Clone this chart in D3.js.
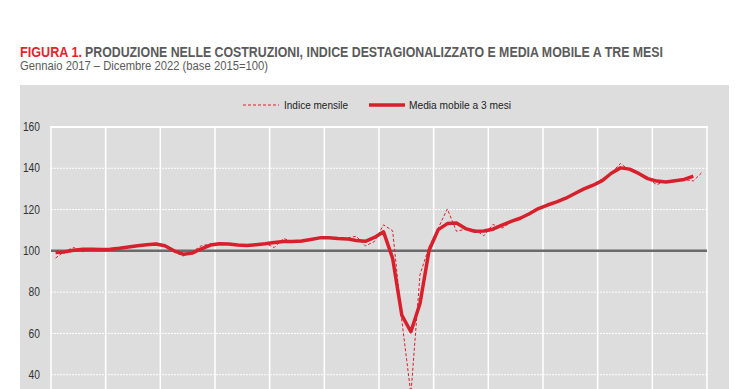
<!DOCTYPE html>
<html>
<head>
<meta charset="utf-8">
<script src="https://cdn.jsdelivr.net/npm/d3@7"></script>
<style>
  body { margin: 0; background: #fff; }
  svg text { font-family: "Liberation Sans Narrow", "Arial Narrow", "Liberation Sans", sans-serif; }
</style>
</head>
<body>
<svg id="chart" width="740" height="389"></svg>
<script>
// Monthly index, Jan 2017 - Dec 2022 (base 2015=100)
var indiceMensile = [
  96.5, 99.8, 101.6, 99.6, 101.2, 100.8, 100.6, 101.0, 101.6, 102.2, 103.0, 103.8,
  102.8, 99.5, 97.5, 99.5, 102.5, 103.3, 103.8, 103.0, 102.5, 102.7, 103.3, 103.6,
  101.6, 106.0, 104.5, 104.2, 105.3, 106.5, 106.6, 105.8, 106.2, 107.1, 102.4, 104.5,
  112.6, 109.7, 66.5, 30.5, 88.5, 102.0, 111.0, 120.3, 109.5, 110.5, 110.3, 107.3,
  112.8, 111.0, 113.8, 116.3, 117.5, 120.6, 122.5, 123.6, 125.0, 127.6, 129.8, 132.2,
  134.8, 137.8, 142.3, 139.0, 137.2, 134.8, 132.1, 133.8, 134.2, 134.5, 133.9, 138.2
];

// 3-month centred moving average (last month not available)
var mediaMobile = [
  99.2, 99.5, 100.3, 100.8, 100.8, 100.7, 100.8, 101.3, 101.9, 102.5, 103.0, 103.3,
  102.5, 100.0, 98.4, 98.9, 101.0, 102.8, 103.4, 103.3, 102.8, 102.6, 103.0, 103.4,
  104.0, 104.5, 104.5, 104.8, 105.5, 106.3, 106.3, 106.0, 105.8, 105.0, 104.6, 106.5,
  109.2, 96.3, 68.9, 60.8, 74.5, 100.3, 110.3, 113.2, 113.5, 110.8, 109.5, 109.6,
  110.5, 112.5, 114.3, 115.8, 118.0, 120.5, 122.2, 123.7, 125.5, 127.8, 130.0, 131.8,
  134.0, 137.6, 140.2, 139.6, 137.5, 135.0, 133.8, 133.4, 134.0, 134.6, 136.2, null
];

// only the ticks that fit in the visible part of the chart
var yTicks = [40, 60, 80, 100, 120, 140, 160];
var legendLabels = ["Indice mensile", "Media mobile a 3 mesi"];
var titleRed = "FIGURA 1.";
var titleGrey = "PRODUZIONE NELLE COSTRUZIONI, INDICE DESTAGIONALIZZATO E MEDIA MOBILE A TRE MESI";
var subtitle = "Gennaio 2017 \u2013 Dicembre 2022 (base 2015=100)";

var months = d3.timeMonth.range(new Date(2017, 0, 1), new Date(2023, 0, 1));

var red = "#d8202d";
var svg = d3.select("svg#chart");

// plot area
var plotLeft = 51, plotRight = 707, plotTop = 127;

var x = d3.scaleBand()
  .domain(months)
  .range([plotLeft, plotRight])
  .paddingInner(0).paddingOuter(0);

var y = d3.scaleLinear()
  .domain([0, 160])
  .range([plotTop + 160 * 2.0642, plotTop]);

// grey panel
svg.append("rect")
  .attr("x", 20).attr("y", 85)
  .attr("width", 709).attr("height", 330)
  .attr("fill", "#dddddd");

// title (narrow font squeezed with textLength)
svg.append("text")
  .attr("x", 20).attr("y", 57)
  .attr("font-size", 14)
  .attr("font-weight", "bold")
  .attr("fill", "#e0262b")
  .attr("textLength", 62)
  .attr("lengthAdjust", "spacingAndGlyphs")
  .text(titleRed);
svg.append("text")
  .attr("x", 85).attr("y", 57)
  .attr("font-size", 14)
  .attr("font-weight", "bold")
  .attr("fill", "#5a5a5a")
  .attr("textLength", 578)
  .attr("lengthAdjust", "spacingAndGlyphs")
  .text(titleGrey);

svg.append("text")
  .attr("x", 20).attr("y", 70)
  .attr("font-size", 12)
  .attr("fill", "#5a5a5a")
  .attr("textLength", 248)
  .attr("lengthAdjust", "spacingAndGlyphs")
  .text(subtitle);

// horizontal grid
svg.selectAll("line.hgrid")
  .data(yTicks.filter(d => d < 160))
  .enter().append("line")
  .attr("class", "hgrid")
  .attr("x1", plotLeft).attr("x2", plotRight)
  .attr("y1", d => y(d)).attr("y2", d => y(d))
  .attr("stroke", "#ffffff")
  .attr("stroke-width", 1)
  .attr("stroke-dasharray", "2,1");

// vertical grid, every six months
var vLines = months.filter((d, i) => i % 6 == 0).map(d => x(d)).concat([plotRight]);
svg.selectAll("line.vgrid")
  .data(vLines)
  .enter().append("line")
  .attr("class", "vgrid")
  .attr("x1", d => d).attr("x2", d => d)
  .attr("y1", plotTop).attr("y2", 400)
  .attr("stroke", "#ffffff")
  .attr("stroke-width", 1.5);

// top border
svg.append("line")
  .attr("x1", plotLeft - 1).attr("x2", plotRight + 1)
  .attr("y1", y(160)).attr("y2", y(160))
  .attr("stroke", "#ffffff")
  .attr("stroke-width", 2);

// y axis labels
svg.selectAll("text.ytick")
  .data(yTicks)
  .enter().append("text")
  .attr("class", "ytick")
  .attr("x", 40)
  .attr("y", d => y(d))
  .attr("dy", "0.35em")
  .attr("text-anchor", "end")
  .attr("font-size", 12)
  .attr("fill", "#333")
  .attr("textLength", d => String(d).length * 5.7)
  .attr("lengthAdjust", "spacingAndGlyphs")
  .text(d => d);

// base 100 line
svg.append("line")
  .attr("x1", plotLeft).attr("x2", plotRight)
  .attr("y1", y(100)).attr("y2", y(100))
  .attr("stroke", "#6b6b6b")
  .attr("stroke-width", 2.5);

var cx = d => x(d) + x.bandwidth() / 2;

var monthly = d3.line()
  .x((d, i) => cx(months[i]))
  .y(d => y(d));

svg.append("path")
  .datum(indiceMensile)
  .attr("d", monthly)
  .attr("fill", "none")
  .attr("stroke", red)
  .attr("stroke-width", 1)
  .attr("stroke-dasharray", "3,2");

var avg = d3.line()
  .defined(d => d != null)
  .x((d, i) => cx(months[i]))
  .y(d => y(d));

svg.append("path")
  .datum(mediaMobile)
  .attr("d", avg)
  .attr("fill", "none")
  .attr("stroke", red)
  .attr("stroke-width", 3.5)
  .attr("stroke-linejoin", "round");

// legend
svg.append("line")
  .attr("x1", 243).attr("x2", 279)
  .attr("y1", 105).attr("y2", 105)
  .attr("stroke", red)
  .attr("stroke-width", 1)
  .attr("stroke-dasharray", "3,2");
svg.append("text")
  .attr("x", 284).attr("y", 105)
  .attr("dy", "0.35em")
  .attr("font-size", 11.5)
  .attr("fill", "#222")
  .attr("textLength", 64)
  .attr("lengthAdjust", "spacingAndGlyphs")
  .text(legendLabels[0]);

svg.append("line")
  .attr("x1", 369).attr("x2", 405)
  .attr("y1", 105).attr("y2", 105)
  .attr("stroke", red)
  .attr("stroke-width", 3.5);
svg.append("text")
  .attr("x", 409).attr("y", 105)
  .attr("dy", "0.35em")
  .attr("font-size", 11.5)
  .attr("fill", "#222")
  .attr("textLength", 102)
  .attr("lengthAdjust", "spacingAndGlyphs")
  .text(legendLabels[1]);
</script>
</body>
</html>
